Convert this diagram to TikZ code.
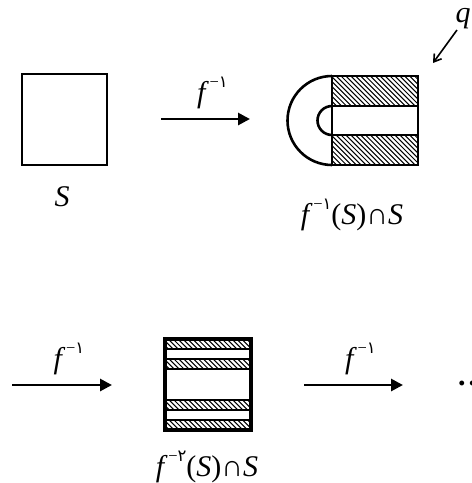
\documentclass[tikz,border=0pt]{standalone}
\usepackage{fontspec}
\setmainfont{Liberation Serif}
\newfontfamily\arabicfont[Script=Arabic]{DejaVu Sans}
\usetikzlibrary{arrows.meta, positioning}
% f to a negative power, the power in Persian digits
\newcommand{\finv}[1]{\textit{f}\raisebox{0.5em}{\scalebox{0.55}{\kern1pt −{\arabicfont #1}}}}
% diagonal hatching inside a band
\newcommand{\hatchband}[4]{%
  \begin{scope}
    \clip (#1,#2) rectangle (#3,#4);
    \foreach \hx in {-40,-35.1,...,92}
      \draw[line width=1pt] ({#1+\hx},#2) -- ++(40,40);
  \end{scope}}

\begin{document}
\begin{tikzpicture}[
    x=1pt, y=-1pt,
    every node/.style={font=\fontsize{30}{32}\selectfont},
    setbox/.style={draw, line width=2.2pt, minimum width=85pt, minimum height=91pt, inner sep=0pt},
    maparrow/.style={-{Triangle[length=12pt, width=12pt]}, line width=2.8pt},
    maplabel/.style={above=9pt, inner sep=0pt, xshift=7pt},
    outline/.style={line width=2.6pt}
]
    \useasboundingbox (0,0) rectangle (472,483);

    % the square S
    \node[setbox] (square) at (64.5,119.5) {};
    \node (squarelabel) at (62,197) {\textit{S}};

    % first map
    \coordinate (firststart) at (161,119);
    \coordinate (firstend) at (250,119);
    \draw[maparrow] (firststart) -- node[maplabel] (firstmap) {\finv{۱}} (firstend);

    % f^-1(S) cap S
    \hatchband{332}{76}{418}{106}
    \hatchband{332}{135}{418}{165}
    \draw[outline] (332,76) arc[start angle=270, end angle=90, radius=44.5];
    \draw[outline] (332,106) arc[start angle=270, end angle=90, radius=14.5];
    \draw[outline] (332,76) rectangle (418,106);
    \draw[outline] (332,106) rectangle (418,135);
    \draw[outline] (332,135) rectangle (418,165);
    \node (onelabel) at (352,215) {\finv{۱}(\textit{S})∩\textit{S}};

    % the point q
    \node[anchor=base, inner sep=0pt] (qlabel) at (463,22) {\textit{q}};
    \coordinate (qtail) at (457,30);
    \coordinate (qtip) at (433,63);
    \draw[-{Straight Barb[length=7pt, width=9pt]}, line width=1.6pt] (qtail) -- (qtip);

    % second row
    \coordinate (secondstart) at (12,385);
    \coordinate (secondend) at (112,385);
    \draw[maparrow] (secondstart) -- node[maplabel] (secondmap) {\finv{۱}} (secondend);

    % f^-2(S) cap S
    \foreach \top/\bot in {340/349, 359/369, 400/410, 420/429} {
        \hatchband{165}{\top}{251}{\bot}
        \draw[line width=1.6pt] (165,\top) rectangle (251,\bot);
    }
    \draw[line width=3.2pt] (165,339) rectangle (251,430);
    \node (twolabel) at (207,467) {\finv{۲}(\textit{S})∩\textit{S}};

    \coordinate (thirdstart) at (304,385);
    \coordinate (thirdend) at (403,385);
    \draw[maparrow] (thirdstart) -- node[maplabel] (thirdmap) {\finv{۱}} (thirdend);

    \node[anchor=base west, inner sep=0pt] (dots) at (458,385) {\textbf{.}\kern3pt\textbf{.}};
\end{tikzpicture}
\end{document}
